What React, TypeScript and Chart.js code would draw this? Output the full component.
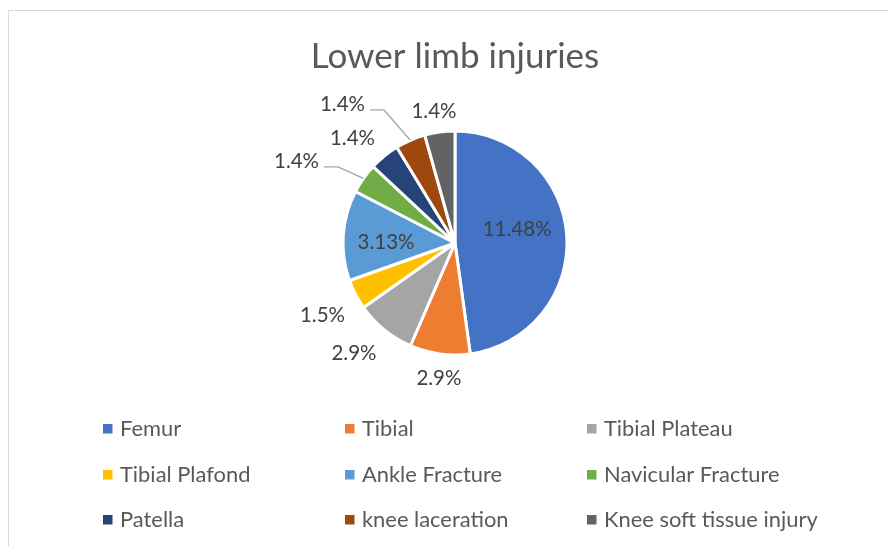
import React, { useEffect, useRef } from "react";
import { Chart, registerables } from "chart.js";

Chart.register(...registerables);

const chartTitle = "Lower limb injuries";
const categories = [
  "Femur",
  "Tibial",
  "Tibial Plateau",
  "Tibial Plafond",
  "Ankle Fracture",
  "Navicular Fracture",
  "Patella",
  "knee laceration",
  "Knee soft tissue injury",
];
const values = [33, 6, 6, 3, 9, 3, 3, 3, 3];
const valueLabels = ["11.48%", "2.9%", "2.9%", "1.5%", "3.13%", "1.4%", "1.4%", "1.4%", "1.4%"];
const colors = ["#4472C4", "#ED7D31", "#A5A5A5", "#FFC000", "#5B9BD5", "#70AD47", "#264478", "#9E480E", "#636363"];

// label placement: [angle shift (deg) from slice middle, distance in radii, draw leader line]
const labelShift = [-8.8, -1.0, 3.6, -1.1, -3.1, -7.8, -5.1, -15.5, -1.2];
const labelDist = [0.568, 1.209, 1.33, 1.346, 0.616, 1.594, 1.313, 1.597, 1.198];
const labelLeader = [false, false, false, false, false, true, false, true, false];

const FONT = "Lato, 'Open Sans', sans-serif";
const W = 889;
const H = 546;

const decorPlugin = {
  id: "decor",
  beforeDraw(chart: any) {
    const ctx = chart.ctx;
    ctx.save();
    ctx.fillStyle = "#ffffff";
    ctx.fillRect(0, 0, W, H);
    ctx.strokeStyle = "#d9d9d9";
    ctx.lineWidth = 1;
    ctx.strokeRect(8.5, 10.5, W + 20, H + 20);
    ctx.restore();
  },
  afterDatasetsDraw(chart: any) {
    const ctx = chart.ctx;
    ctx.save();
    // title
    const titleSize = 35;
    ctx.font = `${titleSize}px ${FONT}`;
    ctx.fillStyle = "#595959";
    ctx.textAlign = "center";
    ctx.textBaseline = "alphabetic";
    ctx.fillText(chartTitle, 455, 67.5);

    // data labels
    const labelSize = 20.5;
    ctx.font = `${labelSize}px ${FONT}`;
    const meta = chart.getDatasetMeta(0);
    meta.data.forEach((arc: any, i: number) => {
      const p = arc.getProps(["x", "y", "startAngle", "endAngle", "outerRadius"], true);
      const mid = (p.startAngle + p.endAngle) / 2;
      const a = mid + (labelShift[i] * Math.PI) / 180;
      const r = labelDist[i] * p.outerRadius;
      const lx = p.x + Math.cos(a) * r;
      const ly = p.y + Math.sin(a) * r;
      ctx.fillStyle = "#404040";
      ctx.textAlign = "center";
      ctx.textBaseline = "alphabetic";
      ctx.fillText(valueLabels[i], lx, ly + labelSize * 0.36);
      if (labelLeader[i]) {
        const tw = ctx.measureText(valueLabels[i]).width;
        const ex = p.x + Math.cos(mid) * p.outerRadius;
        const ey = p.y + Math.sin(mid) * p.outerRadius;
        const sx = lx + tw / 2 + 5;
        const sy = ly + 6;
        ctx.strokeStyle = "#a6a6a6";
        ctx.lineWidth = 1.3;
        ctx.beginPath();
        ctx.moveTo(sx, sy);
        ctx.lineTo(sx + 14, sy);
        ctx.lineTo(ex, ey);
        ctx.stroke();
      }
    });

    // legend (3 columns)
    const legendSize = 21.9;
    ctx.font = `${legendSize}px ${FONT}`;
    const colX = [103, 345, 587];
    const rowY = [428.5, 474.5, 519.5];
    categories.forEach((c, i) => {
      const col = i % 3;
      const row = Math.floor(i / 3);
      const mx = colX[col];
      const my = rowY[row];
      ctx.fillStyle = colors[i];
      ctx.fillRect(mx, my - 4.5, 9.5, 9.5);
      ctx.fillStyle = "#595959";
      ctx.textAlign = "left";
      ctx.textBaseline = "alphabetic";
      ctx.fillText(c, mx + 17, my + legendSize * 0.36);
    });
    ctx.restore();
  },
};

export default function App() {
  const ref = useRef<HTMLCanvasElement | null>(null);
  useEffect(() => {
    if (!ref.current) return;
    const chart = new Chart(ref.current, {
      type: "pie",
      data: {
        labels: categories,
        datasets: [
          {
            data: values,
            backgroundColor: colors,
            borderColor: "#ffffff",
            borderWidth: 3,
          },
        ],
      },
      options: {
        responsive: false,
        animation: false,
        devicePixelRatio: 1,
        layout: { padding: { left: 341.5, right: 320.5, top: 129.5, bottom: 189.5 } },
        plugins: {
          legend: { display: false },
          title: { display: false },
          tooltip: { enabled: false },
        },
      },
      plugins: [decorPlugin],
    } as any);
    return () => chart.destroy();
  }, []);
  return (
    <div style={{ position: "absolute", left: 0, top: 0, width: W, height: H, background: "#fff" }}>
      <canvas ref={ref} width={W} height={H} style={{ display: "block", width: W, height: H }} />
    </div>
  );
}
